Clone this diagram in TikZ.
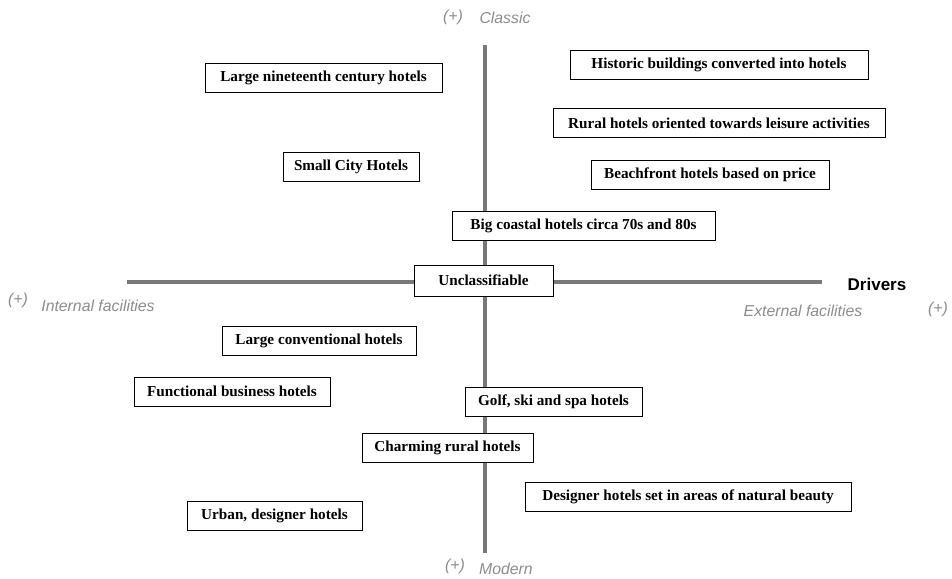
\documentclass[tikz,border=0pt]{standalone}
\usepackage{fontspec}
\setmainfont{Liberation Serif}
\setsansfont{Liberation Sans}
\begin{document}
\begin{tikzpicture}[x=1pt,y=-1pt,
  hbox/.style={draw=black, line width=1pt, fill=white, inner sep=0pt, minimum height=29pt,
    font=\fontsize{15.2}{17}\selectfont\bfseries},
  axis/.style={draw=gray!95!black, line width=4pt},
  lab/.style={inner sep=0pt, text=gray!90, font=\sffamily\itshape\fontsize{15.8}{18}\selectfont},
]
\useasboundingbox (0,0) rectangle (952,578);
\coordinate (vt) at (485,45);
\coordinate (vb) at (485,553);
\coordinate (hl) at (127,282);
\coordinate (hr) at (822,282);
\draw[axis] (vt) -- (vb);
\draw[axis] (hl) -- (hr);

\node[hbox, minimum width=237pt] (n1) at (323.5,77.5) {Large nineteenth century hotels};
\node[hbox, minimum width=298pt] (n2) at (719,65) {Historic buildings converted into hotels};
\node[hbox, minimum width=332pt] (n3) at (719,123) {Rural hotels oriented towards leisure activities};
\node[hbox, minimum width=136pt] (n4) at (351,166.5) {Small City Hotels};
\node[hbox, minimum width=238pt] (n5) at (710,174.5) {Beachfront hotels based on price};
\node[hbox, minimum width=263pt] (n6) at (583.5,226) {Big coastal hotels circa 70s and 80s};
\node[hbox, minimum width=139pt, minimum height=31pt] (n7) at (483.5,280.5) {Unclassifiable};
\node[hbox, minimum width=194pt] (n8) at (319,341) {Large conventional hotels};
\node[hbox, minimum width=196pt] (n9) at (232,391.5) {Functional business hotels};
\node[hbox, minimum width=177pt] (n10) at (553.5,401.5) {Golf, ski and spa hotels};
\node[hbox, minimum width=171pt] (n11) at (447.5,447.5) {Charming rural hotels};
\node[hbox, minimum width=326pt] (n12) at (688,496.5) {Designer hotels set in areas of natural beauty};
\node[hbox, minimum width=175pt] (n13) at (274.5,515.5) {Urban, designer hotels};

\node[lab] (pc) at (453,17) {(+)};
\node[lab] (cl) at (505,18) {Classic};
\node[lab] (pi) at (18,300) {(+)};
\node[lab] (il) at (98,306) {Internal facilities};
\node[inner sep=0pt, font=\sffamily\bfseries\fontsize{17}{19}\selectfont] (dr) at (877,284) {Drivers};
\node[lab] (el) at (803,311) {External facilities};
\node[lab] (pe) at (938,309) {(+)};
\node[lab] (pm) at (455,566) {(+)};
\node[lab] (md) at (506,569) {Modern};
\end{tikzpicture}
\end{document}
